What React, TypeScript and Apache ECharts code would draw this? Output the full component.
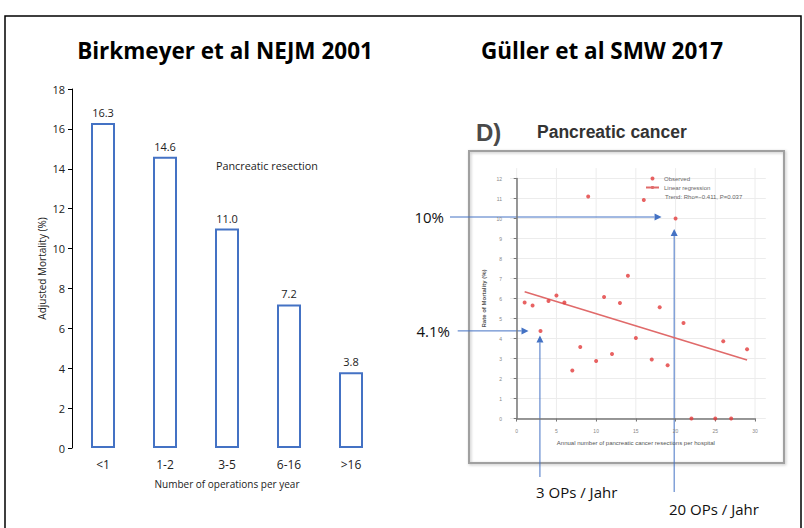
import React, { useEffect, useRef } from "react";
import * as echarts from "echarts";

// ---------- Left chart: Birkmeyer et al NEJM 2001 ----------
const volumeCategories = ["<1", "1-2", "3-5", "6-16", ">16"];
const adjustedMortality = [16.3, 14.6, 11.0, 7.2, 3.8];

// ---------- Right chart: Güller et al SMW 2017 (pancreatic cancer) ----------
const hospitalVolume = [1, 2, 3, 4, 5, 6, 7, 8, 9, 10, 11, 12, 13, 14, 15, 16, 17, 18, 19, 20, 21, 22, 25, 26, 27, 29];
const mortalityRate = [5.8, 5.65, 4.38, 5.88, 6.15, 5.8, 2.4, 3.58, 11.1, 2.88, 6.07, 3.23, 5.77, 7.14, 4.02, 10.92, 2.95, 5.56, 2.66, 10.0, 4.77, 0, 0, 3.86, 0, 3.46];
const regressionX = [1, 29];
const regressionY = [6.34, 2.93];
const scatterXTicks = [0, 5, 10, 15, 20, 25, 30];
const scatterYTicks = [0, 1, 2, 3, 4, 5, 6, 7, 8, 9, 10, 11, 12];

const FONT = "'Open Sans', 'Noto Sans', sans-serif";
const SMALL = "'Liberation Sans', Arial, sans-serif";
const BLUE = "#4472C4";

export default function App() {
  const ref = useRef<HTMLDivElement>(null);
  useEffect(() => {
    document.body.style.margin = "0";
    if (!ref.current) return;
    const chart = echarts.init(ref.current, undefined, { renderer: "svg" });
    const xExt = [-0.84, 31.36];
    const yExt = [-0.16, 12.52];
    chart.setOption({
      animation: false,
      backgroundColor: "#ffffff",
      legend: {
        left: 645,
        top: 175,
        orient: "vertical",
        padding: 0,
        itemGap: 2,
        itemWidth: 13,
        itemHeight: 4,
        selectedMode: false,
        textStyle: { fontSize: 6, color: "#666", fontFamily: SMALL, lineHeight: 7 },
        data: [{ name: "Observed", icon: "circle" }, { name: "Linear regression" }],
      },
      grid: [
        { left: 72, top: 89, width: 310, height: 359, outerBoundsMode: "none" },
        { left: 516.7, top: 178.5, width: 238.3, height: 240, outerBoundsMode: "none" },
      ],
      xAxis: [
        {
          type: "category",
          gridIndex: 0,
          data: volumeCategories,
          axisLine: { show: false },
          axisTick: { show: false },
          axisLabel: { fontSize: 12, color: "#222", fontFamily: FONT, margin: 10 },
          name: "Number of operations per year",
          nameLocation: "middle",
          nameGap: 31,
          nameTextStyle: { fontSize: 10, color: "#222", fontFamily: FONT },
        },
        {
          type: "value",
          gridIndex: 1,
          min: 0,
          max: 30,
          interval: 5,
          offset: 8,
          axisLine: { show: true, lineStyle: { color: "#777", width: 1.5 } },
          axisTick: { show: true, length: 3, lineStyle: { color: "#777", width: 1 } },
          axisLabel: { fontSize: 5, color: "#888", fontFamily: SMALL, margin: 2 },
          splitLine: { show: false },
          name: "Annual number of pancreatic cancer resections per hospital",
          nameLocation: "middle",
          nameGap: 13,
          nameTextStyle: { fontSize: 6, color: "#555", fontFamily: SMALL },
        },
      ],
      yAxis: [
        {
          type: "value",
          gridIndex: 0,
          min: 0,
          max: 18,
          interval: 2,
          axisLine: { show: true, lineStyle: { color: "#000", width: 1 } },
          axisTick: { show: true, length: 4, lineStyle: { color: "#000" } },
          axisLabel: { fontSize: 11, color: "#222", fontFamily: FONT, margin: 7 },
          splitLine: { show: false },
          name: "Adjusted Mortality (%)",
          nameLocation: "middle",
          nameGap: 25,
          nameRotate: 90,
          nameTextStyle: { fontSize: 10, color: "#222", fontFamily: FONT },
        },
        {
          type: "value",
          gridIndex: 1,
          min: 0,
          max: 12,
          interval: 1,
          offset: 11.7,
          axisLine: { show: true, lineStyle: { color: "#777", width: 1.5 } },
          axisTick: { show: true, length: 3, lineStyle: { color: "#777", width: 1 } },
          axisLabel: { fontSize: 5, color: "#888", fontFamily: SMALL, margin: 3 },
          splitLine: { show: false },
          name: "Rate of Mortality (%)",
          nameLocation: "middle",
          nameGap: 18,
          nameRotate: 90,
          nameTextStyle: { fontSize: 6, color: "#555", fontFamily: SMALL, fontWeight: "bold" },
        },
      ],
      series: [
        {
          type: "bar",
          xAxisIndex: 0,
          yAxisIndex: 0,
          data: adjustedMortality,
          barWidth: 24,
          itemStyle: { color: "#ffffff", borderColor: BLUE, borderWidth: 2 },
          label: {
            show: true,
            position: "top",
            distance: 5,
            fontSize: 11,
            color: "#222",
            fontFamily: FONT,
            formatter: (p: any) => Number(p.value).toFixed(1),
          },
        },
        {
          type: "custom",
          xAxisIndex: 1,
          yAxisIndex: 1,
          silent: true,
          z: 0,
          clip: false,
          data: scatterXTicks.map((v) => [v, 0]),
          renderItem: (params: any, api: any) => {
            const v = api.value(0);
            const a = api.coord([v, yExt[0]]);
            const b = api.coord([v, yExt[1]]);
            return { type: "line", shape: { x1: a[0], y1: a[1], x2: b[0], y2: b[1] }, style: { stroke: "#ececec", lineWidth: 1 } };
          },
        },
        {
          type: "custom",
          xAxisIndex: 1,
          yAxisIndex: 1,
          silent: true,
          z: 0,
          clip: false,
          data: scatterYTicks.map((v) => [0, v]),
          renderItem: (params: any, api: any) => {
            const v = api.value(1);
            const a = api.coord([xExt[0], v]);
            const b = api.coord([xExt[1], v]);
            return { type: "line", shape: { x1: a[0], y1: a[1], x2: b[0], y2: b[1] }, style: { stroke: "#ececec", lineWidth: 1 } };
          },
        },
        {
          name: "Linear regression",
          type: "line",
          xAxisIndex: 1,
          yAxisIndex: 1,
          symbol: "none",
          data: regressionX.map((x, i) => [x, regressionY[i]]),
          lineStyle: { color: "#e06a6a", width: 1.6 },
          itemStyle: { color: "#e06a6a" },
          z: 3,
        },
        {
          name: "Observed",
          type: "scatter",
          xAxisIndex: 1,
          yAxisIndex: 1,
          symbolSize: 4,
          data: hospitalVolume.map((x, i) => [x, mortalityRate[i]]),
          itemStyle: { color: "#e23b3b" },
          z: 4,
        },
      ],
    });

    const p20 = chart.convertToPixel({ gridIndex: 1 }, [20, 10]) as number[];
    const p3 = chart.convertToPixel({ gridIndex: 1 }, [3, 4.38]) as number[];

    const arrow = (x1: number, y1: number, x2: number, y2: number) => {
      const dx = x2 - x1, dy = y2 - y1;
      const len = Math.sqrt(dx * dx + dy * dy);
      const ux = dx / len, uy = dy / len;
      const hl = 7, hw = 3.5;
      const bx = x2 - ux * hl, by = y2 - uy * hl;
      return [
        { type: "line", shape: { x1, y1, x2: bx, y2: by }, style: { stroke: BLUE, lineWidth: 1 }, silent: true },
        {
          type: "polygon",
          shape: { points: [[x2, y2], [bx - uy * hw, by + ux * hw], [bx + uy * hw, by - ux * hw]] },
          style: { fill: BLUE },
          silent: true,
        },
      ];
    };

    const annoText = (text: string, x: number, y: number, align: string) => ({
      type: "text",
      x,
      y,
      style: { text, fontSize: 15, fontFamily: FONT, fill: "#111", align, verticalAlign: "middle" },
      silent: true,
    });

    chart.setOption({
      graphic: {
        elements: [
          { type: "rect", shape: { x: 5, y: 16, width: 796, height: 540 }, style: { fill: "none", stroke: "#000", lineWidth: 1.5 }, silent: true, z: -10 },
          { type: "text", x: 225, y: 50, style: { text: "Birkmeyer et al NEJM 2001", fontSize: 22.5, fontWeight: "bold", fontFamily: FONT, fill: "#000", align: "center", verticalAlign: "middle" } },
          { type: "text", x: 602, y: 50, style: { text: "Güller et al SMW 2017", fontSize: 22.5, fontWeight: "bold", fontFamily: FONT, fill: "#000", align: "center", verticalAlign: "middle" } },
          { type: "text", x: 216, y: 165, style: { text: "Pancreatic resection", fontSize: 10.8, fontFamily: FONT, fill: "#222", align: "left", verticalAlign: "middle" } },
          { type: "rect", shape: { x: 469, y: 151, width: 315, height: 312 }, style: { fill: "none", stroke: "#a0a0a0", lineWidth: 2, shadowBlur: 3, shadowColor: "rgba(0,0,0,0.25)", shadowOffsetX: 1, shadowOffsetY: 1 }, silent: true, z: -5 },
          { type: "text", x: 476, y: 132, style: { text: "D)", fontSize: 24, fontWeight: "bold", fontFamily: SMALL, fill: "#4a4a4a", align: "left", verticalAlign: "middle" } },
          { type: "text", x: 537, y: 132, style: { text: "Pancreatic cancer", fontSize: 17.5, fontWeight: "bold", fontFamily: SMALL, fill: "#333", align: "left", verticalAlign: "middle" } },
          { type: "text", x: 665, y: 197, style: { text: "Trend: Rho=\u22120.411, P=0.037", fontSize: 6, fontFamily: SMALL, fill: "#666", align: "left", verticalAlign: "middle" } },
          ...arrow(450, p20[1] - 1.5, p20[0] - 14, p20[1] - 1.5),
          ...arrow(p20[0] - 1.4, 492, p20[0] - 1.4, p20[1] + 10.5),
          ...arrow(457.7, p3[1], p3[0] - 12, p3[1]),
          ...arrow(p3[0] - 0.6, 477, p3[0] - 0.6, p3[1] + 4.5),
          annoText("10%", 444, p20[1] - 1.5, "right"),
          annoText("4.1%", 450, p3[1], "right"),
          annoText("3 OPs / Jahr", 536, 492, "left"),
          annoText("20 OPs / Jahr", 669, 509, "left"),
        ],
      },
    });

    return () => chart.dispose();
  }, []);
  return <div ref={ref} style={{ width: 804, height: 528 }} />;
}
